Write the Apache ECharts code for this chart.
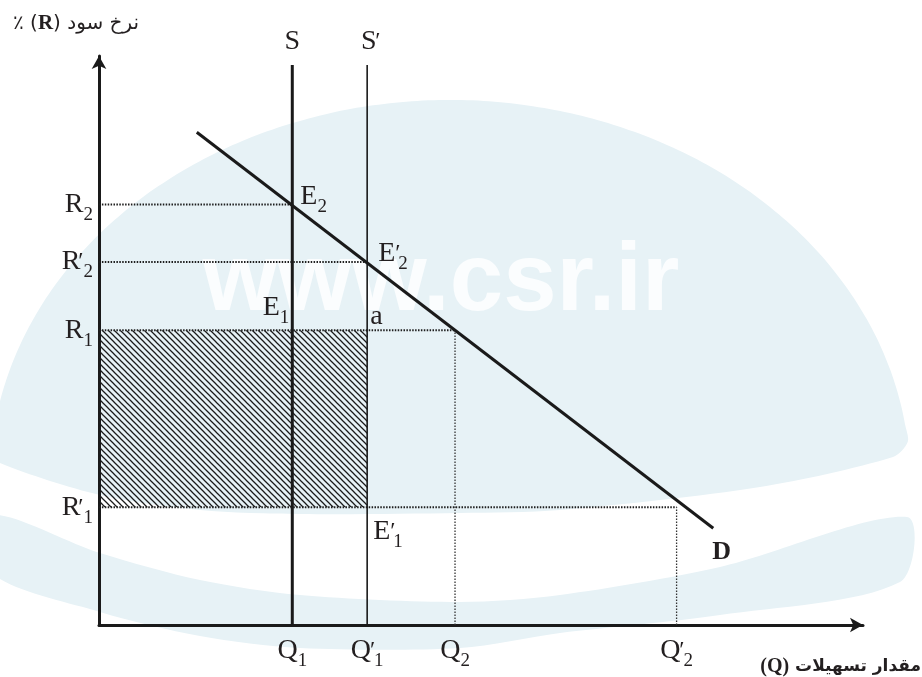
<!DOCTYPE html>
<html>
<head>
<meta charset="utf-8">
<script src="https://cdn.jsdelivr.net/npm/echarts@6/dist/echarts.min.js"></script>
<style>
  html, body { margin: 0; padding: 0; background: #fff; }
  #chart { width: 922px; height: 677px; }
</style>
</head>
<body>
<div id="chart"></div>
<script>
// quantity ticks on the x axis (Q1, Q1', Q2, Q2')
const qTicks = [25.3, 35.1, 46.6, 75.6];
const qTickLabels = ["Q_1", "Q'_1", "Q_2", "Q'_2"];
// interest-rate ticks on the y axis (R2, R2', R1, R1')
const rTicks = [73.9, 63.8, 51.8, 20.7];
const rTickLabels = ["R_2", "R'_2", "R_1", "R'_1"];
// where each dotted rate guide stops
const guideEndQ = [25.3, 35.1, 46.6, 75.6];

const supplyNames = ["S", "S'"];
const supplyQ = [25.3, 35.1];
const supplyTop = 98.4;

const demandQ = [12.8, 80.4];
const demandR = [86.6, 17.0];

const pointLabels = ["E_2", "E'_2", "E_1", "a", "E'_1"];
const pointQ = [25.3, 35.1, 25.3, 35.1, 35.1];
const pointR = [73.9, 63.8, 51.8, 51.8, 20.7];

const hatchQ = [0, 35.1];
const hatchR = [20.7, 51.8];

const ink = '#231f20';
const serif = 'Liberation Serif';

function richText(str) {
  const parts = str.split('_');
  const head = parts[0];
  const prime = head.endsWith("'");
  const base = prime ? head.slice(0, -1) : head;
  let s = '{m|' + base + '}';
  if (prime) s += '{p|′}';
  if (parts[1]) s += '{s|' + parts[1] + '}';
  return s;
}

const richStyles = {
  m: { fontFamily: serif, fontSize: 28, lineHeight: 40, color: ink },
  p: { fontFamily: serif, fontSize: 24, color: ink, width: 3 },
  s: { fontFamily: serif, fontSize: 19, verticalAlign: 'bottom', color: ink }
};

// "\" hatch texture
function hatchPattern() {
  const n = 6;
  const c = document.createElement('canvas');
  c.width = n; c.height = n;
  const ctx = c.getContext('2d');
  ctx.strokeStyle = '#1a1a1a';
  ctx.lineWidth = 1.25;
  ctx.beginPath();
  ctx.moveTo(-1, -1); ctx.lineTo(n + 1, n + 1);
  ctx.moveTo(-1, n - 1); ctx.lineTo(1, n + 1);
  ctx.moveTo(n - 1, -1); ctx.lineTo(n + 1, 1);
  ctx.stroke();
  return c;
}

// background logo shapes (watermark)
const blue = '#e7f2f6';
function dome() {
  const pts = [];
  const cx = 450, cy = 480, rx = 460, ry = 380;
  for (let i = 0; i <= 60; i++) {
    const t = Math.PI + 0.15 + (Math.PI - 0.25) * i / 60;
    pts.push([cx + rx * Math.cos(t), cy + ry * Math.sin(t)]);
  }
  return pts.concat([[893, 457], [760, 487], [560, 510], [460, 513], [300, 514],
    [200, 510], [100, 495], [0, 463], [-10, 450]]);
}
const band = [[-10, 515], [100, 553], [200, 580], [300, 595], [460, 602], [560, 595],
  [720, 567], [907, 517], [900, 582], [720, 615], [560, 633], [460, 648], [300, 648],
  [200, 636], [100, 612], [-10, 572]];

const chart = echarts.init(document.getElementById('chart'));

const series = [];

rTicks.forEach((r, i) => {
  series.push({
    type: 'line', symbol: 'none', silent: true, z: 2,
    data: [[0, r], [guideEndQ[i], r]],
    lineStyle: { color: '#1f1f1f', width: 1.9, type: [1.5, 1.4] }
  });
});

// vertical guides under Q2 and Q2'
[2, 3].forEach((i) => {
  series.push({
    type: 'line', symbol: 'none', silent: true, z: 2,
    data: [[qTicks[i], 0], [qTicks[i], rTicks[i]]],
    lineStyle: { color: '#333', width: 1.3, type: [1.5, 1.5] }
  });
});

supplyQ.forEach((q, i) => {
  series.push({
    type: 'line', symbol: 'none', silent: true, z: 3,
    data: [[q, 0], [q, supplyTop]],
    lineStyle: { color: '#1a1a1a', width: i === 0 ? 3 : 1.6 },
    markArea: i === 1 ? {
      silent: true,
      itemStyle: { color: { image: hatchPattern(), repeat: 'repeat' }, opacity: 1 },
      data: [[{ coord: [hatchQ[0], hatchR[1]] }, { coord: [hatchQ[1], hatchR[0]] }]]
    } : undefined
  });
});

series.push({
  type: 'line', symbol: 'none', silent: true, z: 3,
  data: demandQ.map((q, i) => [q, demandR[i]]),
  lineStyle: { color: '#1a1a1a', width: 3 }
});

// label anchors
const pointOffsets = [[8, -8, 'left'], [11, -8, 'left'], [-3, -23, 'right'], [3, -14, 'left'], [6, 24, 'left']];
const labelData = pointLabels.map((t, i) => ({
  value: [pointQ[i], pointR[i]],
  label: {
    formatter: richText(t), position: [pointOffsets[i][0], pointOffsets[i][1]],
    align: pointOffsets[i][2], verticalAlign: 'middle'
  }
}));
supplyNames.forEach((t, i) => labelData.push({
  value: [supplyQ[i], supplyTop],
  label: { formatter: richText(t), position: [i === 0 ? 0 : 3, -23], align: 'center', verticalAlign: 'middle' }
}));
labelData.push({
  value: [demandQ[1], demandR[1]],
  label: {
    formatter: '{d|D}', position: [-1, 24], align: 'left', verticalAlign: 'middle'
  }
});

series.push({
  type: 'scatter', symbolSize: 0, silent: true, z: 5,
  itemStyle: { opacity: 1 },
  data: labelData,
  label: {
    show: true, color: ink,
    rich: Object.assign({ d: { fontFamily: serif, fontSize: 26, fontWeight: 'bold', color: ink, lineHeight: 30 } }, richStyles)
  }
});

const option = {
  animation: false,
  backgroundColor: '#fff',
  grid: { left: 99, right: 59, top: 56, bottom: 52 },
  xAxis: {
    type: 'value', min: 0, max: 100,
    splitLine: { show: false },
    axisTick: { show: false },
    axisLine: { lineStyle: { color: '#1a1a1a', width: 3 }, symbol: ['none', 'arrow'], symbolSize: [11, 13] },
    axisLabel: {
      customValues: qTicks, margin: 6,
      formatter: (v) => richText(qTickLabels[qTicks.indexOf(v)]),
      rich: richStyles
    }
  },
  yAxis: {
    type: 'value', min: 0, max: 100,
    splitLine: { show: false },
    axisTick: { show: false },
    axisLine: { lineStyle: { color: '#1a1a1a', width: 3 }, symbol: ['none', 'arrow'], symbolSize: [11, 13] },
    axisLabel: {
      customValues: rTicks, margin: 6,
      formatter: (v) => richText(rTickLabels[rTicks.indexOf(v)]),
      rich: richStyles
    }
  },
  graphic: [
    { type: 'polygon', z: -10, silent: true, shape: { points: dome(), smooth: 0.3 }, style: { fill: blue } },
    { type: 'polygon', z: -10, silent: true, shape: { points: band, smooth: 0.3 }, style: { fill: blue } },
    {
      type: 'text', z: -9, silent: true,
      style: { text: 'www.csr.ir', x: 441, y: 284, align: 'center', verticalAlign: 'middle',
        font: 'bold 96px "Liberation Sans"', fill: '#fbfdfe' }
    },
    {
      type: 'text', silent: true,
      style: {
        text: '{t|٪ (}{b|R}{t|) نرخ سود}', x: 13, y: 24, verticalAlign: 'middle', align: 'left',
        rich: {
          t: { fontFamily: 'DejaVu Sans', fontSize: 20, fill: ink },
          b: { fontFamily: serif, fontSize: 21, fontWeight: 'bold', fill: ink }
        }
      }
    },
    {
      type: 'text', silent: true,
      style: {
        text: '{b|(Q)}{t| مقدار تسهیلات}', x: 921, y: 667, verticalAlign: 'middle', align: 'right',
        rich: {
          t: { fontFamily: 'DejaVu Sans', fontSize: 17, fontWeight: 'bold', fill: ink },
          b: { fontFamily: serif, fontSize: 20, fontWeight: 'bold', fill: ink }
        }
      }
    }
  ],
  series: series
};

chart.setOption(option);
</script>
</body>
</html>
